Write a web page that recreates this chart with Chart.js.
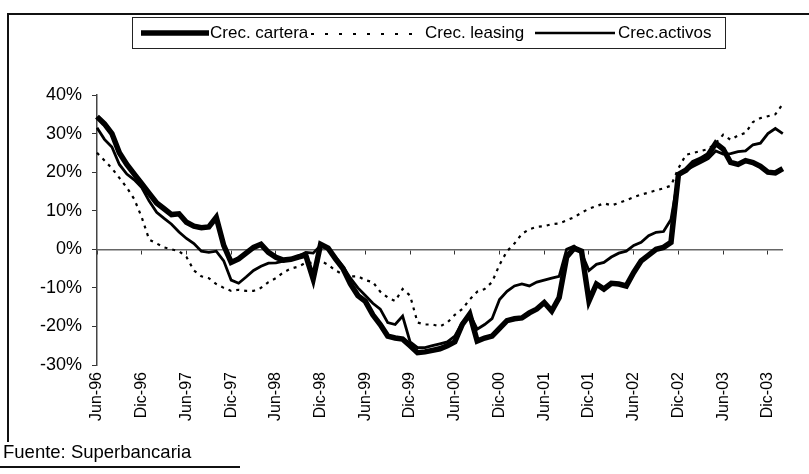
<!DOCTYPE html>
<html>
<head>
<meta charset="utf-8">
<script src="https://cdn.jsdelivr.net/npm/chart.js@4.4.1/dist/chart.umd.min.js"></script>
<style>
  body { margin: 0; background: #fff; font-family: "Liberation Sans", Arial, sans-serif; }
  #wrap { position: relative; width: 809px; height: 474px; overflow: hidden; background: #fff; }
  #c { position: absolute; left: 0; top: 0; }
  .frame { position: absolute; left: 7px; top: 13px; width: 810px; height: 427px;
           border-top: 2px solid #111; border-left: 2px solid #111; }
  .bottomline { position: absolute; left: 0; top: 466px; width: 240px; border-top: 2px solid #111; }
  .fuente { position: absolute; left: 3px; top: 441px; font-size: 18.5px; color: #000; }
  .legend { position: absolute; left: 132px; top: 17px; width: 592px; height: 30px;
            border: 1px solid #222; }
  .legend span { position: absolute; top: 5px; font-size: 17px; color: #000; white-space: nowrap; }
  .legend svg { position: absolute; top: 0; }
</style>
</head>
<body>
<div id="wrap">
  <canvas id="c" width="809" height="474"></canvas>
  <div class="frame"></div>
  <div class="legend">
    <svg style="left:8px" width="68" height="30"><line x1="0" y1="15" x2="68" y2="15" stroke="#000" stroke-width="5.5"/></svg>
    <span style="left:77px">Crec. cartera</span>
    <svg style="left:178px" width="110" height="30"><line x1="0" y1="16" x2="110" y2="16" stroke="#000" stroke-width="2" stroke-dasharray="3 11"/></svg>
    <span style="left:292px">Crec. leasing</span>
    <svg style="left:402px" width="80" height="30"><line x1="0" y1="15" x2="80" y2="15" stroke="#000" stroke-width="2.5"/></svg>
    <span style="left:485px">Crec.activos</span>
  </div>
  <div class="fuente">Fuente: Superbancaria</div>
  <div class="bottomline"></div>
</div>
<script>
// monthly data, Jun-96 .. Feb-04
const months = ['Ene', 'Feb', 'Mar', 'Abr', 'May', 'Jun', 'Jul', 'Ago', 'Sep', 'Oct', 'Nov', 'Dic'];
const labels = [];
for (let i = 0; i < 93; i++) {
  const m = (5 + i) % 12;
  const y = 96 + Math.floor((5 + i) / 12);
  labels.push(months[m] + '-' + String(y % 100).padStart(2, '0'));
}

const cartera = [
  34.4, 32.5, 30, 25, 22, 19.5, 17, 14.5, 12, 10.5, 9, 9.2,
  7, 6, 5.6, 5.8, 8.3, 1, -3.4, -2.5, -1, 0.5, 1.3, -0.8,
  -2.1, -2.8, -2.6, -2, -1.5, -7.7, 1.3, 0.3, -2.5, -5, -9, -12,
  -13.5, -17, -19.5, -22.5, -23, -23.3, -25, -26.8, -26.6, -26.2, -25.8, -25,
  -24, -19.5, -16.8, -23.8, -23, -22.5, -20.5, -18.5, -18, -17.8, -16.5, -15.5,
  -13.8, -16, -12.5, -2, 0.3, -0.5, -13.4, -9, -10.3, -8.8, -9, -9.5,
  -6, -3, -1.5, 0, 0.5, 1.8, 19.4, 20.5, 22.5, 23.3, 24.5, 27.5,
  26, 22.5, 22, 23, 22.5, 21.5, 20, 19.8, 20.9
];
const leasing = [
  25, 23, 21, 18.5, 16, 13, 8.3, 2.5, 1.5, 0.5, 0, -0.5,
  -2, -5.5, -7, -7.5, -9, -10, -10.8, -10.5, -10.8, -10.8, -10, -8.5,
  -7.5, -6, -5, -4.5, -3.5, -3.5, -3, -4, -5.5, -6.5, -7, -7,
  -8, -8.5, -11, -12.5, -13.4, -10.3, -12, -19, -19.5, -19.5, -20, -19,
  -17, -15.5, -13, -11, -10.3, -8.5, -4, -0.5, 1.5, 4, 5.2, 5.8,
  6, 6.5, 6.7, 7.5, 8.3, 9.5, 10.5, 11.2, 11.9, 11.4, 12, 12.7,
  13.5, 14.2, 14.7, 15.3, 15.8, 16.5, 21, 24.5, 25, 25.5, 26, 27.5,
  29.7, 28.4, 29.5, 30.2, 33, 34, 34.5, 35, 37.7
];
const activos = [
  31.5, 28.5, 26.5, 22, 19.5, 18, 16, 12.5, 9.6, 8, 6.5, 4.5,
  2.8, 1.5, -0.5, -0.8, -0.5, -3, -8, -8.8, -7.2, -5.5, -4.4, -3.6,
  -3.5, -3.1, -2.5, -1.8, -0.8, -1, 1, 0, -2, -4.5, -7.5, -10,
  -12, -14, -15.5, -19, -19.5, -17.3, -24, -25.5, -25.5, -25, -24.5, -24,
  -22.5, -19, -16.8, -20.7, -19.5, -18, -13, -10.9, -9.5, -9, -9.5, -8.5,
  -8, -7.5, -7, 0, 0.8, -1, -5.5, -3.9, -3.4, -2, -1, -0.5,
  1, 1.8, 3.5, 4.4, 4.6, 7.7, 19, 20.5, 21.5, 22.5, 23.5, 25.5,
  24.7, 24.8, 25.3, 25.5, 27.1, 27.5, 30, 31.3, 30
];

const yTicks = [-30, -20, -10, 0, 10, 20, 30, 40];

const ctx = document.getElementById('c').getContext('2d');
new Chart(ctx, {
  type: 'line',
  data: {
    labels: labels,
    datasets: [
      { label: 'Crec. cartera', data: cartera, borderColor: '#000', borderWidth: 5.5, pointRadius: 0, tension: 0 },
      { label: 'Crec. leasing', data: leasing, borderColor: '#000', borderWidth: 2.2, borderDash: [3, 5], pointRadius: 0, tension: 0 },
      { label: 'Crec.activos', data: activos, borderColor: '#000', borderWidth: 2.8, pointRadius: 0, tension: 0 }
    ]
  },
  options: {
    responsive: false,
    animation: false,
    layout: { padding: { left: 8, top: 95, right: 22, bottom: 0 } },
    plugins: { legend: { display: false }, tooltip: { enabled: false } },
    scales: {
      x: {
        type: 'category',
        border: { display: false },
        grid: { display: false, drawTicks: false },
        ticks: {
          autoSkip: false, maxRotation: 90, minRotation: 90, padding: 7,
          color: '#000', font: { size: 16, family: '"Liberation Sans", Arial' },
          callback: function (v, i) { return i % 6 === 0 ? this.getLabelForValue(v) : ''; }
        },
        afterFit: s => { s.height = 109; }
      },
      x0: {
        type: 'category',
        position: { y: 0 },
        border: { display: true, color: '#666', width: 1.5 },
        grid: {
          drawOnChartArea: false, drawTicks: true, tickLength: 4, color: 'transparent',
          tickColor: c => (c.index % 6 === 0 ? '#333' : 'transparent')
        },
        ticks: { display: false, autoSkip: false }
      },
      y: {
        min: -30, max: 40,
        afterBuildTicks: s => { s.ticks = yTicks.map(v => ({ value: v })); },
        ticks: {
          callback: v => v + '%', color: '#000', padding: 10,
          font: { size: 18, family: '"Liberation Sans", Arial' }
        },
        border: { display: true, color: '#444', width: 1.5, dash: [10, 3] },
        grid: { drawOnChartArea: false, drawTicks: true, tickLength: 5, tickColor: '#333' },
        afterFit: s => { s.width = 89; }
      }
    }
  }
});
</script>
</body>
</html>
